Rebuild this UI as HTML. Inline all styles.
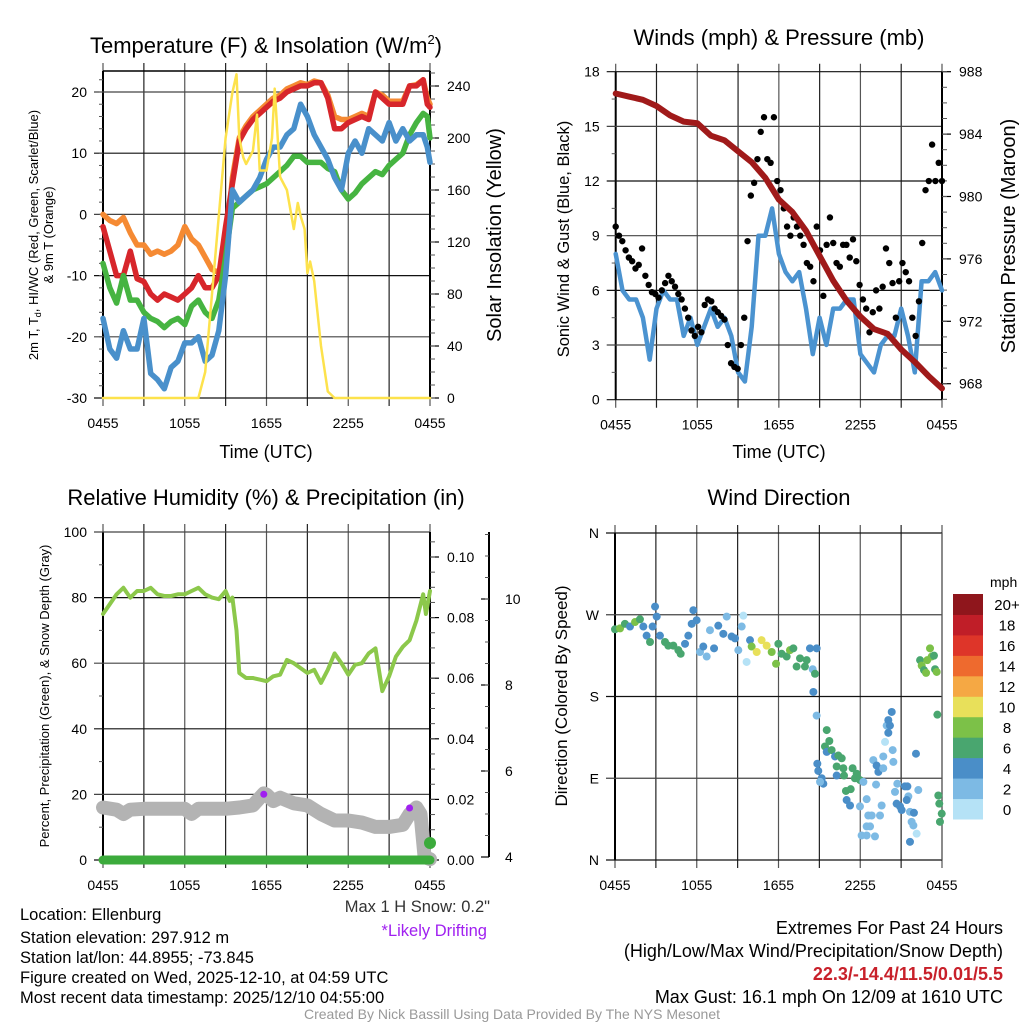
<!DOCTYPE html>
<html><head><meta charset="utf-8"><style>
html,body{margin:0;padding:0;background:#fff;}
svg{display:block;font-family:"Liberation Sans",Arial,sans-serif;}
</style></head><body>
<svg id="chart" width="1024" height="1024" viewBox="0 0 1024 1024" xmlns="http://www.w3.org/2000/svg">
<rect x="0" y="0" width="1024" height="1024" fill="#fff"/>
<text x="266" y="53" font-size="22" text-anchor="middle">Temperature (F) &amp; Insolation (W/m<tspan font-size="13" dy="-9">2</tspan><tspan dy="9">)</tspan></text>
<text x="779" y="45" font-size="22" text-anchor="middle">Winds (mph) &amp; Pressure (mb)</text>
<text x="266" y="505" font-size="22" text-anchor="middle">Relative Humidity (%) &amp; Precipitation (in)</text>
<text x="779" y="505" font-size="22" text-anchor="middle">Wind Direction</text>
<text x="266" y="458" font-size="18" text-anchor="middle">Time (UTC)</text>
<text x="779" y="458" font-size="18" text-anchor="middle">Time (UTC)</text>
<text transform="translate(38,235) rotate(-90)" font-size="13" text-anchor="middle">2m T, T<tspan font-size="9" dy="3">d</tspan><tspan dy="-3">, HI/WC (Red, Green, Scarlet/Blue)</tspan></text>
<text transform="translate(53,235) rotate(-90)" font-size="13" text-anchor="middle">&amp; 9m T (Orange)</text>
<text transform="translate(501,235) rotate(-90)" font-size="20" text-anchor="middle">Solar Insolation (Yellow)</text>
<text transform="translate(569,239) rotate(-90)" font-size="16.5" text-anchor="middle">Sonic Wind &amp; Gust (Blue, Black)</text>
<text transform="translate(1015,236) rotate(-90)" font-size="20" text-anchor="middle">Station Pressure (Maroon)</text>
<text transform="translate(49,696) rotate(-90)" font-size="13" text-anchor="middle">Percent, Precipitation (Green), &amp; Snow Depth (Gray)</text>
<text transform="translate(567,696) rotate(-90)" font-size="17" text-anchor="middle">Direction (Colored By Speed)</text>
<g font-size="16.5">
<text x="20" y="920">Location: Ellenburg</text>
<text x="20" y="943">Station elevation: 297.912 m</text>
<text x="20" y="963">Station lat/lon: 44.8955; -73.845</text>
<text x="20" y="983">Figure created on Wed, 2025-12-10, at 04:59 UTC</text>
<text x="20" y="1003">Most recent data timestamp: 2025/12/10 04:55:00</text>
</g>
<text x="490" y="912" font-size="16.5" fill="#333" text-anchor="end">Max 1 H Snow: 0.2"</text>
<text x="487" y="936" font-size="16.5" fill="#a020f0" text-anchor="end">*Likely Drifting</text>
<text x="1003" y="934" font-size="18" text-anchor="end">Extremes For Past 24 Hours</text>
<text x="1003" y="957" font-size="18" text-anchor="end">(High/Low/Max Wind/Precipitation/Snow Depth)</text>
<text x="1003" y="980" font-size="18" font-weight="bold" fill="#c8202a" text-anchor="end">22.3/-14.4/11.5/0.01/5.5</text>
<text x="1003" y="1003" font-size="18" text-anchor="end">Max Gust: 16.1 mph On 12/09 at 1610 UTC</text>
<text x="512" y="1019" font-size="14" fill="#999" text-anchor="middle">Created By Nick Bassill Using Data Provided By The NYS Mesonet</text>
<text x="990" y="587" font-size="14">mph</text>
</svg>
<script>
// ---------- data ----------
const xTickLabels = ["0455","1055","1655","2255","0455"];
const tHours = [0,0.5,1,1.5,2,2.5,3,3.5,4,4.5,5,5.5,6,6.5,7,7.5,8,8.5,9,9.5,10,10.5,11,11.5,12,12.5,13,13.5,14,14.5,15,15.5,16,16.5,17,17.5,18,18.5,19,19.5,20,20.5,21,21.5,22,22.5,23,23.5,23.8,24];
const tempRed = [-2,-6,-10,-10,-6,-10.5,-11,-13,-14,-13,-13.5,-14,-13,-12,-10,-12,-12,-10,-2,5,12,14,15.5,16.5,17.5,18.5,19,20,20.5,21,21,21.5,21.5,19,14,14,15,15.5,16,15.5,20,19,18,18,18,21,21,22,18,17.5];
const tempOrange = [0,-1,-1.5,-0.5,-3,-5,-5,-6.5,-6,-6.5,-6,-5,-2,-4,-5,-7,-9,-9.5,-6,6,12.5,14.5,16,17,18,19,19.5,20.5,21,21.5,21.2,21.8,21.5,19.5,16,15.5,15.5,16,16.5,16,20,19.5,18.5,18.5,18.5,21,21.2,22,19,18];
const dewGreen = [-8,-12,-14.5,-10,-14,-14,-16,-17,-17.5,-18.5,-17.5,-17,-18,-15,-14,-16,-17,-14,-7,1,2,3,4,4.5,5,6,7,8,9.5,9.5,8.5,8.5,8.5,7.5,7,4,2.5,3.5,5,6,7,6.5,8,9,10,13,15,16.5,16,12.5];
const chillBlue = [-17,-22,-23.5,-19,-22,-22,-17,-26,-27,-28.5,-25,-24,-21,-21,-20,-24,-23,-19,-10,4,2,3,4,6,9,11,11,13,14,18,16,13,11,9,6,4,10,12,10,14,13,12,15,12,14,12,13,13,11,8.5];
const solarHours = [0,7,7.5,8,8.5,9,9.5,9.8,10,10.3,10.5,11,11.3,11.5,12,12.4,12.6,13,13.5,14,14.3,14.5,14.8,15,15.2,15.5,16,16.5,17,24];
const solarVals = [0,0,20,80,140,200,235,249,200,185,180,190,218,175,175,200,238,170,160,130,150,140,130,96,105,90,40,5,0,0];
const windHours = [0,0.5,1,1.5,2,2.5,3,3.5,4,4.5,5,5.5,6,6.5,7,7.5,8,8.5,9,9.5,10,10.5,11,11.5,12,12.5,13,13.5,14,14.5,15,15.5,16,16.5,17,17.5,18,18.5,19,19.5,20,20.5,21,21.5,22,22.5,23,23.5,24];
const windSpeed = [8,6,5.5,5.5,4.5,2.2,5,6,5.5,5.5,3.5,4.5,3,4,5,4,4.5,3.5,1.5,1,4,9,9,10.5,8,7,6.5,7,5,2.5,4.5,3,5,5,5.5,5.5,2.5,2,1.5,3,3.5,3.5,5,3.5,1.5,6.5,6.5,7,6];
const gustVals = [9.5,9,8.7,8.2,7.8,7.6,7.2,7.4,8.3,6.8,6.3,5.9,5.8,5.6,6.0,6.4,6.8,6.5,6.2,5.8,5.5,5.0,4.5,3.8,3.5,4.0,3.7,5.2,5.5,5.4,5.0,4.8,4.6,4.4,3.0,2.0,1.8,1.7,3.0,4.5,8.7,11.2,11.9,13.2,14.7,15.5,13.2,13.0,15.5,12.0,11.5,10.5,9.5,9.0,10.0,9.5,9.0,8.5,7.5,7.3,6.5,9.5,8.2,5.7,8.5,10.0,8.6,7.5,7.3,8.5,8.5,7.8,8.8,7.6,6.3,5.5,5.0,3.7,4.8,6.0,5.0,6.2,8.3,7.5,6.4,4.5,6.5,7.5,7.0,6.5,4.5,3.5,5.4,8.6,11.5,12.0,14.0,12.0,13.0,12.0];
const presHours = [0,1,2,3,4,5,6,7,8,9,10,11,12,13,14,15,16,17,18,19,20,21,22,23,24];
const pressure = [986.6,986.4,986.2,985.8,985.2,984.8,984.7,983.9,983.6,982.9,982.2,981.2,979.8,979.0,977.8,976.2,974.6,973.3,972.3,971.5,971.2,970.2,969.4,968.5,967.7];
const rhHours = [0,0.5,1,1.5,2,2.5,3,3.5,4,4.5,5,5.5,6,6.5,7,7.5,8,8.5,9,9.3,9.5,9.8,10,10.5,11,11.5,12,12.5,13,13.5,14,14.5,15,15.5,16,16.5,17,17.5,18,18.5,19,19.5,20,20.5,21,21.5,22,22.5,23,23.5,23.7,24];
const rhVals = [75,78,81,83,80,82,82,83,81,80.5,80.5,81,81,82,83,81,80,79.5,82,79,80,70,57,55.5,55.5,55,54.5,56,56.5,61,60,58.5,57,58,54,58,63,60,56.5,59.5,60,63,64.5,51.5,56,62,65,67,73,81,75,82];
const snowHours = [0,1,1.5,2,3,4,5,6,6.5,7,8,9,10,11,11.8,12,12.5,13,14,15,16,17,18,19,20,21,22,22.5,23,23.3,23.6,24];
const snowDepth = [5.15,5.1,5.0,5.1,5.12,5.12,5.12,5.12,5.0,5.12,5.12,5.12,5.15,5.2,5.48,5.45,5.3,5.38,5.25,5.2,5.0,4.85,4.85,4.8,4.7,4.7,4.75,5.0,5.15,5.0,4.0,3.95];
const driftHours = [11.8,22.5];
const driftDepth = [5.46,5.14];
const precipHours = [0,24];
const precipVals = [0,0];
const precipEndHour = [24];
const precipEndVal = [0.0056];
const dirHours = [0,0.37,0.73,1.1,1.47,1.83,2.08,2.32,2.57,2.76,2.94,3.06,3.3,3.67,3.91,4.28,4.65,4.82,5.14,5.38,5.63,5.75,5.99,6.24,6.48,6.73,6.97,7.27,7.58,7.95,8.2,8.56,8.81,9.05,9.3,9.42,9.66,9.91,10.03,10.4,10.76,11.13,11.5,11.82,11.99,12.23,12.6,12.84,13.09,13.33,13.58,13.94,14.07,14.31,14.51,14.68,14.56,14.8,14.8,15.54,15.73,15.41,15.54,15.9,16.15,16.39,16.64,16.27,16.76,16.27,16.81,14.85,14.92,15.17,15.29,15.05,17.44,17.74,17.61,17.98,18.23,16.95,17.3,17.0,17.25,17.98,18.47,18.59,18.84,18.47,18.72,18.1,18.47,19.08,18.96,19.2,19.33,19.69,19.16,19.57,19.45,19.69,19.82,19.94,20.06,20.18,20.31,20.06,20.38,20.43,20.72,20.55,20.67,20.92,21.04,21.28,21.46,21.53,21.41,21.65,21.77,21.9,21.65,21.94,22.14,22.09,22.26,22.39,22.51,22.68,22.83,22.92,23.12,23.24,23.41,23.49,23.61,23.66,23.73,23.8,23.98,23.85];
const dirDeg = [254,255,260,257,262,265,257,247,240,257,279,268,247,240,236,236,231,227,238,247,260,275,264,229,235,224,253,233,258,249,268,246,244,231,257,269,218,242,235,229,242,236,229,216,238,227,224,231,233,213,222,213,220,233,210,205,185,233,159,143,131,125,119,121,114,115,112,103,101,93,93,106,98,90,84,86,101,95,90,88,86,76,78,66,60,59,67,49,49,37,37,27,27,26,110,104,97,101,83,60,49,114,130,148,154,148,163,140,121,108,84,75,62,59,55,81,81,70,66,53,42,38,20,52,29,117,77,220,214,209,206,220,233,224,225,210,207,160,71,62,51,42];
const dirSpeed = [7,9,7,5,9,7,5,5,7,5,5,5,5,7,7,7,7,7,5,5,5,5,5,3,5,3,3,5,5,5,3,5,5,3,3,1,1,5,9,11,11,11,9,9,7,7,7,9,7,7,7,7,7,5,3,7,5,5,3,7,7,7,5,7,5,7,7,7,7,5,7,5,5,5,5,3,7,7,7,7,3,7,7,5,5,3,3,3,3,3,3,3,3,3,3,5,5,3,3,3,3,3,1,3,5,5,5,5,3,3,3,3,5,5,5,5,5,3,5,3,3,3,5,5,1,5,3,7,9,7,9,9,9,9,7,7,9,7,7,7,7,7];
const speedBinLabels = ["0","2","4","6","8","10","12","14","16","18","20+"];
const speedBinColors = ["#b5e2f6","#7dbae4","#4a8ec8","#49a66f","#7cc148","#e8e05a","#f5a844","#ee6a2e","#de3529","#c01e28","#8f161c"];

// ---------- drawing ----------
const NS = "http://www.w3.org/2000/svg";
const svg = document.getElementById("chart");
function mk(tag, name, attrs, parent) {
  const e = document.createElementNS(NS, tag);
  
  
  for (const k in attrs) e.setAttribute(k, attrs[k]);
  (parent || svg).appendChild(e);
  return e;
}
function txt(name, x, y, s, attrs, parent) {
  const e = mk("text", name, Object.assign({x: x, y: y, "font-size": 14}, attrs || {}), parent);
  e.textContent = s;
  return e;
}
function lin(d0, d1, r0, r1) { return v => r0 + (v - d0) / (d1 - d0) * (r1 - r0); }
function poly(name, xs, ys, fx, fy, attrs) {
  const pts = xs.map((h, i) => fx(h).toFixed(1) + "," + fy(ys[i]).toFixed(1)).join(" ");
  return mk("polyline", name, Object.assign({points: pts, fill: "none", "stroke-linejoin": "round", "stroke-linecap": "round"}, attrs));
}
function frame(P, pname) {
  const g = mk("g", pname + "-grid", {});
  for (let i = 0; i <= 8; i++) {
    const x = P.fx(i * 3);
    mk("line", pname + "-vgrid", {x1: x, x2: x, y1: P.top - 8, y2: P.bot + 8, stroke: i % 2 ? "#222" : "#555", "stroke-width": 1.2}, g);
  }
  for (let i = 0; i < 5; i++) {
    txt(pname + "-x-tick-label", P.fx(i * 6), P.bot + 30, xTickLabels[i], {"text-anchor": "middle"});
  }
  return g;
}
function leftAxis(P, pname, ticks, labels, minors, fy) {
  mk("line", pname + "-left-axis", {x1: P.x0, x2: P.x0, y1: P.top, y2: P.bot, stroke: "#000", "stroke-width": 2});
  ticks.forEach((t, i) => {
    const y = fy(t);
    mk("line", pname + "-hgrid", {x1: P.x0 - 9, x2: P.x1, y1: y, y2: y, stroke: i % 2 ? "#444" : "#111", "stroke-width": 1.2});
    txt(pname + "-y-tick-label", P.x0 - 16, y + 5, labels[i], {"text-anchor": "end"});
  });
  minors.forEach(t => { const y = fy(t); mk("line", pname + "-minor-tick", {x1: P.x0 - 4, x2: P.x0, y1: y, y2: y, stroke: "#555"}); });
}
function rightAxis(P, pname, ticks, labels, minors, fy, xa, lx) {
  xa = xa || P.x1;
  mk("line", pname + "-right-axis", {x1: xa, x2: xa, y1: P.top, y2: P.bot, stroke: "#000", "stroke-width": 2});
  ticks.forEach((t, i) => {
    const y = fy(t);
    mk("line", pname + "-right-tick", {x1: xa, x2: xa + 9, y1: y, y2: y, stroke: "#000", "stroke-width": 1.2});
    txt(pname + "-right-tick-label", lx || xa + 17, y + 5, labels[i], {"text-anchor": "start"});
  });
  minors.forEach(t => { const y = fy(t); mk("line", pname + "-right-minor", {x1: xa, x2: xa + 5, y1: y, y2: y, stroke: "#555"}); });
}
function range(a, b, s) { const r = []; for (let v = a; v <= b + 1e-9; v += s) r.push(+v.toFixed(4)); return r; }

// Panel 1: temperature
const P1 = {x0: 103, x1: 430, top: 71, bot: 398};
P1.fx = lin(0, 24, P1.x0, P1.x1);
const fyT = lin(-30, 20, 398, 92);
const fyS = lin(0, 240, 398, 86);
frame(P1, "temp");
leftAxis(P1, "temp", range(-30, 20, 10), range(-30, 20, 10).map(String), range(-28, 22, 2), fyT);
rightAxis(P1, "solar", range(0, 240, 40), range(0, 240, 40).map(String), range(0, 250, 10), fyS);
mk("line", "temp-top-axis", {x1: P1.x0, x2: P1.x1, y1: P1.top, y2: P1.top, stroke: "#000", "stroke-width": 1.5});
poly("orange-9m-temp-line", tHours, tempOrange, P1.fx, fyT, {stroke: "#f58a33", "stroke-width": 5.5});
poly("red-temp-line", tHours, tempRed, P1.fx, fyT, {stroke: "#d7262b", "stroke-width": 5.5});
poly("green-dewpoint-line", tHours, dewGreen, P1.fx, fyT, {stroke: "#46b441", "stroke-width": 5.5});
poly("blue-windchill-line", tHours, chillBlue, P1.fx, fyT, {stroke: "#4990cb", "stroke-width": 5.5});
poly("yellow-solar-line", solarHours, solarVals, P1.fx, fyS, {stroke: "#fde24c", "stroke-width": 2.5});

// Panel 2: wind
const P2 = {x0: 615.7, x1: 942, top: 71.7, bot: 399.7};
P2.fx = lin(0, 24, P2.x0, P2.x1);
const fyW = lin(0, 18, 399.7, 71.7);
const fyP = lin(968, 988, 383.7, 71.7);
frame(P2, "wind");
leftAxis(P2, "wind", range(0, 18, 3), range(0, 18, 3).map(String), range(1.5, 16.5, 3), fyW);
rightAxis(P2, "pressure", range(968, 988, 4), range(968, 988, 4).map(String), range(967, 988, 1), fyP);
poly("sustained-wind-line", windHours, windSpeed, P2.fx, fyW, {stroke: "#4b93d0", "stroke-width": 4.5});
const gg = mk("g", "gust-points", {});
gustVals.forEach((v, i) => {
  mk("circle", "gust-point", {cx: P2.fx(i * 24 / (gustVals.length - 1)), cy: fyW(v), r: 3.2, fill: "#000"}, gg);
});
poly("pressure-line", presHours, pressure, P2.fx, fyP, {stroke: "#a01a1a", "stroke-width": 6});

// Panel 3: RH
const P3 = {x0: 103, x1: 430, top: 532, bot: 860};
P3.fx = lin(0, 24, P3.x0, P3.x1);
const fyR = lin(0, 100, 860, 532);
const fyPr = lin(0, 0.1, 860, 557);
const fySn = lin(4, 10, 857, 599);
frame(P3, "rh");
leftAxis(P3, "rh", range(0, 100, 20), range(0, 100, 20).map(String), range(10, 90, 20), fyR);
rightAxis(P3, "precip", range(0, 0.1, 0.02), ["0.00","0.02","0.04","0.06","0.08","0.10"], range(0.005, 0.105, 0.005), fyPr);
mk("line", "snow-axis", {x1: 489, x2: 489, y1: 532, y2: 857, stroke: "#000", "stroke-width": 2});
range(4, 10, 2).forEach(t => {
  const y = fySn(t);
  mk("line", "snow-tick", {x1: 481, x2: 489, y1: y, y2: y, stroke: "#000", "stroke-width": 1.2});
  txt("snow-tick-label", 505, y + 5, String(t), {});
});
range(4.5, 11.5, 0.5).forEach(t => { const y = fySn(t); mk("line", "snow-minor-tick", {x1: 485, x2: 489, y1: y, y2: y, stroke: "#555"}); });
poly("snow-depth-line", snowHours, snowDepth, P3.fx, fySn, {stroke: "#b3b3b3", "stroke-width": 14});
driftHours.forEach((h, i) => { mk("circle", "drifting-marker", {cx: P3.fx(h), cy: fySn(driftDepth[i]), r: 3.5, fill: "#a020f0"}); });
poly("rh-line", rhHours, rhVals, P3.fx, fyR, {stroke: "#8cc84b", "stroke-width": 4});
poly("precip-line", precipHours, precipVals, P3.fx, fyPr, {stroke: "#3cab3c", "stroke-width": 9});
precipEndHour.forEach((h, i) => { mk("circle", "precip-end-point", {cx: P3.fx(h), cy: fyPr(precipEndVal[i]), r: 6, fill: "#3cab3c"}); });

// Panel 4: wind direction
const P4 = {x0: 615, x1: 942, top: 533, bot: 860};
P4.fx = lin(0, 24, P4.x0, P4.x1);
const fyD = lin(0, 360, 860, 533);
frame(P4, "dir");
leftAxis(P4, "dir", [0, 90, 180, 270, 360], ["N","E","S","W","N"], [], fyD);
mk("line", "dir-right-edge", {x1: P4.x1, x2: P4.x1, y1: P4.top, y2: P4.bot, stroke: "#555", "stroke-width": 1.2});
const dg = mk("g", "direction-points", {});
dirHours.forEach((h, i) => {
  const b = Math.min(10, Math.floor(dirSpeed[i] / 2));
  mk("circle", "direction-point", {cx: P4.fx(h), cy: fyD(dirDeg[i]), r: 4, fill: speedBinColors[b]}, dg);
});
const cbTop = 594, cbBot = 819, cbX = 953, cbW = 30;
const cbH = (cbBot - cbTop) / speedBinColors.length;
speedBinColors.forEach((c, i) => {
  const y = cbBot - (i + 1) * cbH;
  mk("rect", "colorbar-bin", {x: cbX, y: y, width: cbW, height: cbH + 0.5, fill: c});
  txt("colorbar-label", 1007, y + cbH / 2 + 6, speedBinLabels[i], {"text-anchor": "middle", "font-size": 15});
});
</script>
</body></html>
